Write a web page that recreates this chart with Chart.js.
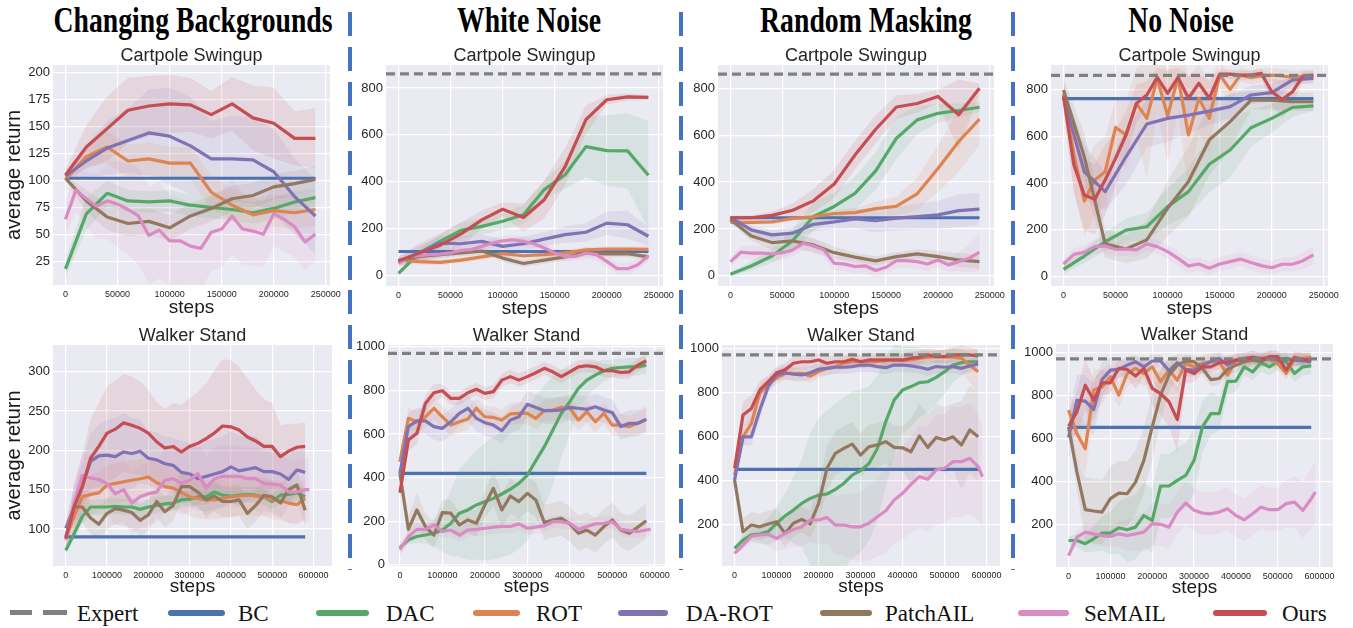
<!DOCTYPE html>
<html>
<head>
<meta charset="utf-8">
<script src="https://cdn.jsdelivr.net/npm/chart.js@4.4.1/dist/chart.umd.min.js"></script>
<style>
  body { margin: 0; width: 1353px; height: 628px; background: #fff; position: relative; overflow: hidden; }
  canvas { position: absolute; }
  .head { position: absolute; top: 2px; font: bold 36px "Liberation Serif", "Times New Roman", serif; line-height: 36px;
          white-space: nowrap; color: #000; transform: translateX(-50%) scaleX(0.77); }
  .sep { position: absolute; top: 12px; height: 558px; width: 4px;
         background: repeating-linear-gradient(to bottom, #4472c4 0 24px, transparent 24px 34.8px); }
  .sw { position: absolute; height: 6px; border-radius: 3px; top: 610px; }
  .lt { position: absolute; top: 602px; font: 23px "Liberation Serif", "Times New Roman", serif; line-height: 24px;
        color: #111; white-space: nowrap; }
</style>
</head>
<body>
<div class="head" style="left:193px">Changing Backgrounds</div>
<div class="head" style="left:529px">White Noise</div>
<div class="head" style="left:866px">Random Masking</div>
<div class="head" style="left:1181px">No Noise</div>
<div class="sep" style="left:348px"></div>
<div class="sep" style="left:679px"></div>
<div class="sep" style="left:1011px"></div>
<div id="legend"></div>
<script>
// x positions
const stepsTop = [0, 20000, 40000, 60000, 80000, 100000, 120000, 140000, 160000, 180000, 200000, 220000, 240000];
const stepsTopFine = [0, 10000, 20000, 30000, 40000, 50000, 60000, 70000, 80000, 90000, 100000, 110000, 120000,
  130000, 140000, 150000, 160000, 170000, 180000, 190000, 200000, 210000, 220000, 230000, 240000];
const stepsBottom = [0, 20000, 40000, 60000, 80000, 100000, 120000, 140000, 160000, 180000, 200000, 220000, 240000,
  260000, 280000, 300000, 320000, 340000, 360000, 380000, 400000, 420000, 440000, 460000, 480000, 500000, 520000,
  540000, 560000, 580000];
const stepsBottomPink = [0, 20000, 40000, 60000, 80000, 100000, 120000, 140000, 160000, 180000, 200000, 220000, 240000,
  260000, 280000, 300000, 320000, 340000, 360000, 380000, 400000, 420000, 440000, 460000, 480000, 500000, 520000,
  540000, 560000, 580000, 590000];

// tick labels
const ticksXTop = [0, 50000, 100000, 150000, 200000, 250000];
const ticksXBottom = [0, 100000, 200000, 300000, 400000, 500000, 600000];
const ticksYCartCB = [25, 50, 75, 100, 125, 150, 175, 200];
const ticksYCart = [0, 200, 400, 600, 800];
const ticksYWalkCB = [100, 150, 200, 250, 300];
const ticksYWalk = [0, 200, 400, 600, 800, 1000];

const methodNames = ['Expert', 'BC', 'DAC', 'ROT', 'DA-ROT', 'PatchAIL', 'SeMAIL', 'Ours'];
const panelTitles = ['Cartpole Swingup', 'Walker Stand'];

// expert / BC flat levels (per column)
const expertCart = [null, 860, 860, 860];
const expertWalk = [null, 970, 970, 970];
const bcCart = [102, 103, 248, 760];
const bcWalk = [90, 420, 450, 652];

// Cartpole - Changing Backgrounds
const cartCBDac = [18, 69, 88, 81, 80, 81, 77, 75, 73, 70, 74, 80, 84];
const cartCBRot = [101, 122, 131, 118, 120, 116, 116, 89, 77, 68, 72, 70, 73];
const cartCBDaRot = [104, 118, 130, 137, 144, 141, 132, 120, 120, 119, 108, 85, 67];
const cartCBPatch = [102, 81, 66, 60, 62, 56, 67, 74, 83, 86, 94, 97, 101];
const cartCBSemail = [64, 91, 83, 76, 81, 78, 73, 67, 49, 54, 44, 44, 39, 37, 52, 55, 67, 55, 53, 50, 69, 64, 57, 43, 50];
const cartCBOurs = [105, 131, 148, 165, 169, 171, 170, 161, 171, 158, 153, 139, 139];
const cartCBDacSd = [8, 15, 12, 10, 10, 10, 10, 10, 10, 10, 10, 10, 8];
const cartCBRotSd = [3, 10, 15, 15, 15, 15, 15, 15, 15, 15, 15, 15, 15];
const cartCBDaRotSd = [3, 15, 25, 30, 40, 45, 45, 35, 40, 40, 40, 35, 35];
const cartCBPatchSd = [3, 10, 12, 12, 12, 12, 12, 12, 12, 12, 12, 12, 12];
const cartCBSemailSd = [15, 20, 25, 30, 35, 40, 42, 45, 45, 45, 42, 40, 40, 38, 36, 35, 35, 33, 32, 30, 30, 30, 28, 26, 25];
const cartCBOursSd = [5, 20, 30, 30, 28, 27, 25, 22, 25, 30, 33, 25, 28];

// Cartpole - White Noise
const cartWNDac = [10, 97, 146, 193, 210, 232, 260, 367, 430, 550, 533, 532, 428];
const cartWNRot = [68, 60, 57, 66, 80, 94, 85, 90, 97, 110, 113, 113, 112];
const cartWNDaRot = [62, 97, 139, 136, 146, 125, 136, 156, 175, 185, 224, 217, 168];
const cartWNPatch = [64, 82, 90, 97, 105, 75, 52, 66, 80, 97, 93, 94, 80];
const cartWNSemail = [51, 82, 85, 90, 92, 97, 108, 111, 125, 139, 149, 153, 146, 136, 118, 97, 82, 82, 97, 90, 61, 30, 30, 47, 85];
const cartWNOurs = [62, 97, 130, 178, 238, 283, 248, 324, 465, 665, 750, 762, 760];
const cartWNDacSd = [10, 20, 30, 35, 35, 35, 40, 40, 60, 130, 150, 160, 230];
const cartWNRotSd = [10, 12, 12, 12, 12, 12, 12, 12, 12, 12, 12, 12, 12];
const cartWNDaRotSd = [20, 30, 30, 30, 30, 30, 30, 30, 35, 40, 50, 60, 40];
const cartWNPatchSd = [10, 15, 15, 15, 15, 15, 15, 15, 15, 15, 15, 15, 15];
const cartWNSemailSd = [15, 20, 20, 20, 20, 20, 20, 20, 20, 20, 20, 20, 20, 20, 20, 20, 20, 20, 25, 25, 25, 25, 25, 25, 25];
const cartWNOursSd = [20, 40, 50, 50, 40, 30, 60, 80, 80, 60, 20, 15, 10];

// Cartpole - Random Masking
const cartRMDac = [7, 42, 85, 150, 253, 296, 352, 448, 587, 665, 693, 705, 719];
const cartRMRot = [228, 228, 230, 245, 252, 266, 270, 287, 297, 350, 458, 573, 668];
const cartRMDaRot = [249, 196, 175, 182, 220, 230, 243, 235, 246, 253, 260, 278, 285];
const cartRMPatch = [240, 170, 142, 149, 132, 99, 80, 64, 82, 94, 82, 68, 61];
const cartRMSemail = [61, 101, 97, 97, 94, 99, 111, 139, 128, 111, 54, 50, 40, 43, 23, 37, 65, 65, 61, 51, 68, 47, 61, 75, 101];
const cartRMOurs = [248, 248, 258, 280, 320, 392, 515, 625, 720, 735, 765, 687, 800];
const cartRMDacSd = [8, 20, 30, 50, 60, 60, 70, 80, 90, 60, 40, 30, 20];
const cartRMRotSd = [10, 10, 10, 10, 10, 15, 20, 30, 40, 70, 100, 130, 110];
const cartRMDaRotSd = [10, 20, 20, 25, 30, 30, 40, 50, 50, 55, 60, 70, 70];
const cartRMPatchSd = [15, 20, 30, 30, 30, 25, 20, 20, 20, 20, 25, 30, 30];
const cartRMSemailSd = [20, 25, 30, 30, 30, 30, 30, 30, 30, 30, 30, 30, 30, 30, 30, 30, 30, 30, 30, 30, 30, 30, 40, 60, 80];
const cartRMOursSd = [10, 10, 15, 30, 50, 60, 60, 60, 50, 40, 30, 150, 20];

// Cartpole - No Noise
const cartNNDac = [31, 88, 149, 199, 213, 299, 363, 480, 541, 636, 676, 723, 729];
const cartNNRot = [780, 520, 323, 413, 448, 638, 605, 740, 676, 847, 686, 851, 605, 762, 676, 861, 800, 861, 851, 857, 861, 857, 851, 854, 854];
const cartNNDaRot = [765, 448, 363, 512, 652, 676, 690, 707, 726, 776, 786, 840, 847];
const cartNNPatch = [797, 512, 140, 118, 157, 292, 406, 584, 662, 754, 754, 747, 747];
const cartNNSemail = [54, 95, 104, 128, 131, 117, 118, 114, 140, 128, 107, 78, 46, 54, 36, 54, 64, 75, 60, 47, 38, 53, 53, 68, 93];
const cartNNOurs = [770, 477, 349, 330, 413, 505, 605, 740, 776, 851, 783, 851, 762, 826, 762, 865, 865, 861, 861, 868, 790, 757, 790, 857, 861];
const cartNNDacSd = [20, 30, 40, 50, 60, 80, 100, 120, 120, 80, 60, 40, 20];
const cartNNRotSd = [60, 150, 150, 150, 150, 120, 150, 150, 250, 150, 200, 150, 250, 150, 150, 60, 60, 30, 30, 30, 30, 30, 30, 30, 30];
const cartNNDaRotSd = [40, 120, 80, 120, 100, 100, 80, 60, 50, 40, 40, 20, 20];
const cartNNPatchSd = [50, 100, 60, 60, 80, 120, 150, 150, 120, 40, 40, 40, 40];
const cartNNSemailSd = [20, 25, 30, 30, 30, 30, 30, 30, 30, 30, 30, 30, 30, 30, 30, 30, 30, 30, 30, 30, 30, 30, 30, 35, 40];
const cartNNOursSd = [60, 120, 150, 150, 150, 120, 100, 80, 60, 40, 100, 40, 100, 40, 80, 20, 20, 20, 20, 20, 60, 80, 60, 20, 20];

// Walker - Changing Backgrounds
const walkCBDac = [73, 94, 116, 128, 128, 128, 129, 128, 128, 125, 128, 130, 132, 133, 137, 138, 141, 141, 147, 143, 142, 143, 144, 143, 141, 135, 143, 144, 146, 141];
const walkCBRot = [88, 116, 141, 144, 146, 156, 158, 160, 162, 164, 166, 159, 154, 152, 147, 141, 139, 137, 137, 139, 141, 142, 143, 142, 141, 137, 136, 133, 131, 139];
const walkCBDaRot = [101, 128, 154, 186, 193, 194, 192, 198, 196, 199, 190, 188, 183, 181, 172, 170, 164, 167, 170, 173, 179, 174, 176, 178, 173, 173, 170, 163, 175, 172];
const walkCBPatch = [90, 128, 128, 114, 106, 120, 126, 124, 121, 111, 118, 135, 122, 130, 154, 154, 147, 137, 142, 135, 135, 137, 120, 130, 143, 141, 133, 150, 156, 124];
const walkCBSemail = [86, 133, 168, 165, 163, 158, 145, 150, 133, 141, 145, 147, 162, 164, 158, 162, 171, 152, 164, 167, 167, 167, 164, 164, 158, 157, 156, 147, 147, 150, 150];
const walkCBOurs = [88, 128, 154, 190, 205, 222, 227, 235, 232, 228, 222, 211, 203, 205, 198, 205, 209, 215, 222, 231, 230, 226, 217, 212, 205, 205, 192, 199, 204, 205];
const walkCBDacSd = [5, 8, 10, 10, 10, 10, 10, 10, 10, 10, 10, 10, 10, 10, 10, 10, 10, 10, 10, 10, 10, 10, 10, 10, 10, 10, 10, 10, 10, 10];
const walkCBRotSd = [5, 15, 20, 25, 25, 25, 25, 25, 25, 25, 25, 25, 25, 25, 25, 25, 25, 25, 25, 25, 25, 25, 25, 25, 25, 25, 25, 25, 25, 25];
const walkCBDaRotSd = [10, 25, 30, 35, 40, 45, 50, 50, 45, 40, 35, 35, 35, 35, 40, 40, 40, 45, 45, 45, 45, 45, 40, 40, 35, 35, 30, 30, 30, 30];
const walkCBPatchSd = [5, 15, 20, 20, 20, 20, 20, 20, 20, 20, 20, 20, 20, 20, 20, 20, 20, 20, 20, 20, 20, 20, 20, 20, 20, 20, 20, 20, 20, 20];
const walkCBSemailSd = [10, 20, 30, 30, 35, 40, 40, 40, 40, 40, 40, 40, 40, 40, 40, 40, 40, 40, 40, 40, 40, 40, 40, 40, 40, 40, 40, 40, 40, 40, 40];
const walkCBOursSd = [10, 30, 40, 50, 55, 60, 62, 62, 62, 60, 55, 50, 50, 55, 60, 62, 65, 70, 80, 85, 85, 80, 75, 65, 60, 55, 40, 35, 30, 30];

// Walker - White Noise
const walkWNDac = [79, 115, 130, 137, 145, 160, 191, 237, 252, 275, 290, 305, 325, 347, 374, 412, 478, 542, 618, 695, 748, 809, 847, 870, 890, 901, 905, 908, 908, 916];
const walkWNRot = [473, 672, 656, 679, 718, 679, 641, 656, 669, 718, 679, 676, 664, 692, 695, 695, 672, 707, 710, 722, 718, 664, 702, 656, 695, 641, 641, 634, 649, 667];
const walkWNDaRot = [420, 634, 660, 660, 634, 626, 656, 695, 718, 672, 652, 641, 615, 664, 679, 736, 722, 707, 707, 710, 722, 718, 713, 725, 710, 698, 634, 649, 649, 667];
const walkWNPatch = [420, 163, 252, 176, 137, 240, 237, 183, 206, 191, 275, 351, 252, 316, 290, 328, 298, 194, 206, 214, 188, 145, 160, 137, 176, 206, 160, 145, 173, 202];
const walkWNSemail = [69, 130, 163, 163, 183, 153, 160, 137, 160, 163, 168, 173, 176, 176, 188, 168, 173, 179, 198, 198, 191, 163, 176, 188, 191, 198, 163, 157, 153, 160, 163];
const walkWNOurs = [331, 572, 603, 740, 789, 798, 763, 763, 789, 805, 786, 794, 847, 863, 847, 863, 881, 901, 885, 863, 885, 908, 913, 908, 890, 890, 882, 885, 916, 936];
const walkWNDacSd = [10, 20, 30, 40, 60, 100, 150, 200, 230, 250, 270, 280, 290, 300, 300, 300, 300, 280, 250, 200, 150, 100, 80, 60, 50, 40, 40, 40, 40, 40];
const walkWNRotSd = [30, 50, 50, 50, 50, 50, 50, 50, 50, 50, 50, 50, 50, 50, 50, 50, 50, 50, 50, 50, 50, 50, 50, 50, 50, 50, 50, 50, 50, 50];
const walkWNDaRotSd = [30, 60, 60, 60, 60, 60, 60, 60, 60, 60, 60, 60, 60, 60, 60, 60, 60, 60, 60, 60, 60, 60, 60, 60, 60, 60, 60, 60, 60, 60];
const walkWNPatchSd = [30, 60, 80, 60, 60, 60, 60, 60, 60, 60, 60, 80, 80, 80, 80, 80, 80, 80, 80, 80, 80, 80, 80, 80, 80, 80, 80, 80, 80, 80];
const walkWNSemailSd = [30, 30, 30, 30, 30, 30, 30, 30, 30, 30, 30, 30, 30, 30, 30, 30, 30, 30, 30, 30, 30, 30, 30, 30, 30, 30, 30, 30, 30, 30, 30];
const walkWNOursSd = [30, 50, 50, 40, 40, 30, 30, 30, 30, 30, 30, 30, 30, 30, 30, 30, 30, 30, 30, 30, 30, 30, 30, 30, 30, 30, 30, 30, 30, 30];

// Walker - Random Masking
const walkRMDac = [91, 129, 152, 156, 167, 205, 238, 265, 295, 318, 333, 338, 359, 386, 424, 444, 477, 545, 667, 765, 811, 826, 844, 848, 868, 894, 924, 935, 939, 939];
const walkRMRot = [424, 598, 659, 795, 841, 864, 886, 886, 886, 874, 894, 909, 917, 932, 939, 939, 939, 939, 944, 947, 944, 947, 955, 959, 962, 962, 959, 955, 924, 894];
const walkRMDaRot = [402, 598, 598, 720, 826, 879, 889, 882, 879, 889, 905, 909, 914, 914, 917, 924, 924, 917, 912, 924, 924, 920, 914, 905, 917, 914, 917, 909, 920, 929];
const walkRMPatch = [402, 167, 197, 189, 202, 212, 159, 205, 223, 202, 295, 455, 523, 545, 565, 515, 553, 561, 576, 550, 548, 530, 602, 550, 595, 583, 598, 561, 629, 598];
const walkRMSemail = [68, 106, 147, 152, 155, 136, 159, 177, 189, 220, 220, 232, 197, 197, 189, 189, 205, 235, 262, 311, 341, 382, 417, 405, 447, 455, 485, 485, 500, 462, 417];
const walkRMOurs = [455, 697, 727, 811, 848, 889, 902, 932, 939, 939, 947, 932, 939, 939, 950, 939, 947, 947, 947, 947, 947, 955, 959, 970, 962, 962, 970, 970, 970, 965];
const walkRMDacSd = [10, 20, 30, 40, 60, 80, 100, 150, 200, 300, 350, 380, 390, 390, 380, 370, 350, 330, 300, 250, 200, 180, 160, 140, 120, 100, 80, 60, 40, 30];
const walkRMRotSd = [20, 40, 40, 40, 30, 30, 30, 30, 30, 30, 30, 30, 30, 30, 30, 30, 30, 30, 30, 30, 30, 30, 30, 30, 30, 30, 40, 60, 80, 100];
const walkRMDaRotSd = [20, 40, 40, 40, 30, 30, 30, 30, 30, 30, 30, 30, 30, 30, 30, 30, 30, 30, 30, 30, 30, 30, 30, 30, 30, 30, 30, 30, 30, 30];
const walkRMPatchSd = [30, 60, 60, 60, 60, 60, 60, 60, 60, 60, 80, 100, 100, 100, 100, 100, 100, 100, 100, 100, 100, 150, 150, 150, 150, 150, 150, 200, 200, 200];
const walkRMSemailSd = [10, 20, 30, 40, 50, 60, 70, 80, 90, 100, 110, 120, 130, 140, 150, 160, 170, 180, 190, 200, 210, 220, 230, 240, 250, 250, 250, 250, 250, 240, 230];
const walkRMOursSd = [30, 60, 60, 40, 30, 30, 30, 30, 30, 30, 30, 30, 30, 30, 30, 30, 30, 30, 30, 30, 30, 30, 30, 30, 30, 30, 30, 30, 30, 30];

// Walker - No Noise
const walkNNDac = [127, 127, 112, 135, 161, 161, 186, 177, 189, 243, 220, 380, 380, 406, 429, 499, 654, 716, 716, 864, 867, 933, 910, 952, 933, 957, 957, 902, 933, 938];
const walkNNRot = [732, 623, 553, 825, 840, 887, 802, 902, 926, 902, 933, 864, 918, 871, 949, 933, 949, 957, 957, 895, 964, 960, 964, 967, 967, 949, 902, 972, 972, 977];
const walkNNDaRot = [605, 778, 774, 735, 874, 918, 921, 941, 957, 933, 960, 960, 915, 952, 921, 918, 941, 957, 972, 941, 964, 972, 977, 972, 972, 964, 972, 964, 960, 957];
const walkNNPatch = [654, 445, 270, 264, 259, 321, 347, 344, 398, 499, 654, 802, 895, 941, 960, 957, 926, 874, 879, 921, 941, 957, 964, 957, 977, 972, 967, 967, 967, 967];
const walkNNSemail = [57, 143, 166, 158, 150, 146, 158, 150, 158, 166, 205, 202, 189, 259, 301, 267, 254, 251, 259, 274, 243, 223, 251, 282, 270, 270, 298, 305, 267, 321, 352];
const walkNNOurs = [657, 724, 848, 778, 859, 859, 926, 921, 890, 926, 833, 809, 771, 688, 918, 902, 933, 933, 952, 957, 964, 967, 977, 967, 980, 980, 918, 977, 967, 964];
const walkNNDacSd = [20, 30, 40, 60, 80, 100, 120, 150, 150, 150, 150, 150, 150, 150, 150, 150, 120, 100, 80, 60, 50, 40, 40, 40, 40, 40, 40, 40, 40, 40];
const walkNNRotSd = [100, 100, 120, 100, 80, 60, 60, 60, 60, 60, 60, 60, 60, 60, 40, 40, 40, 40, 40, 40, 30, 30, 30, 30, 30, 30, 30, 30, 30, 30];
const walkNNDaRotSd = [100, 120, 120, 120, 80, 60, 40, 40, 30, 30, 30, 30, 30, 30, 30, 30, 30, 30, 30, 30, 30, 30, 30, 30, 30, 30, 30, 30, 30, 30];
const walkNNPatchSd = [20, 80, 150, 150, 150, 150, 150, 150, 150, 150, 150, 120, 80, 50, 30, 30, 30, 30, 30, 30, 30, 30, 30, 30, 30, 30, 30, 30, 30, 30];
const walkNNSemailSd = [10, 30, 40, 50, 50, 50, 60, 70, 80, 90, 100, 100, 100, 100, 100, 100, 100, 100, 100, 100, 100, 100, 100, 100, 100, 100, 110, 120, 130, 140, 150];
const walkNNOursSd = [60, 100, 120, 100, 60, 50, 40, 40, 60, 40, 80, 100, 120, 150, 60, 40, 30, 30, 30, 30, 30, 30, 30, 30, 30, 30, 30, 30, 30, 30];

const colors = {
  expert: '#808080', bc: '#4c72b0', dac: '#55a868', rot: '#dd8452',
  daRot: '#8172b3', patch: '#937860', semail: '#da8bc3', ours: '#c44e52'
};
const fontSans = '"Liberation Sans", Arial, sans-serif';

function hexToRgba(hex, a) {
  const n = parseInt(hex.slice(1), 16);
  return `rgba(${(n >> 16) & 255}, ${(n >> 8) & 255}, ${n & 255}, ${a})`;
}

// mean line + shaded band
function seriesDatasets(steps, mean, sd, key, order) {
  const color = colors[key];
  return [
    { data: steps.map((s, i) => ({ x: s, y: mean[i] - sd[i] })), borderColor: 'transparent', borderWidth: 0,
      pointRadius: 0, fill: false, order: 100 },
    { data: steps.map((s, i) => ({ x: s, y: mean[i] + sd[i] })), borderColor: 'transparent', borderWidth: 0,
      pointRadius: 0, fill: '-1', backgroundColor: hexToRgba(color, 0.12), order: 100 },
    { data: steps.map((s, i) => ({ x: s, y: mean[i] })), borderColor: color, borderWidth: 3.2,
      pointRadius: 0, fill: false, order: order, borderJoinStyle: 'round' }
  ];
}

const bgPlugin = {
  id: 'bg',
  beforeDraw(chart) {
    const { ctx, chartArea } = chart;
    ctx.save();
    ctx.fillStyle = '#eaeaf2';
    ctx.fillRect(chartArea.left, chartArea.top, chartArea.width, chartArea.height);
    ctx.restore();
  }
};

// plot rectangles [left, top, right, bottom] and axis ranges
const panels = [
  { rect: [53, 65, 330, 285], col: 0, row: 0, x: [-12000, 254000], y: [3, 207], yTicks: ticksYCartCB,
    series: [[stepsTop, cartCBDac, cartCBDacSd, 'dac'], [stepsTop, cartCBRot, cartCBRotSd, 'rot'],
             [stepsTop, cartCBDaRot, cartCBDaRotSd, 'daRot'], [stepsTop, cartCBPatch, cartCBPatchSd, 'patch'],
             [stepsTopFine, cartCBSemail, cartCBSemailSd, 'semail'], [stepsTop, cartCBOurs, cartCBOursSd, 'ours']] },
  { rect: [386, 65, 663, 286], col: 1, row: 0, x: [-12000, 254000], y: [-44, 898], yTicks: ticksYCart,
    series: [[stepsTop, cartWNDac, cartWNDacSd, 'dac'], [stepsTop, cartWNRot, cartWNRotSd, 'rot'],
             [stepsTop, cartWNDaRot, cartWNDaRotSd, 'daRot'], [stepsTop, cartWNPatch, cartWNPatchSd, 'patch'],
             [stepsTopFine, cartWNSemail, cartWNSemailSd, 'semail'], [stepsTop, cartWNOurs, cartWNOursSd, 'ours']] },
  { rect: [718, 65, 994, 286], col: 2, row: 0, x: [-12000, 254000], y: [-43, 899], yTicks: ticksYCart,
    series: [[stepsTop, cartRMDac, cartRMDacSd, 'dac'], [stepsTop, cartRMRot, cartRMRotSd, 'rot'],
             [stepsTop, cartRMDaRot, cartRMDaRotSd, 'daRot'], [stepsTop, cartRMPatch, cartRMPatchSd, 'patch'],
             [stepsTopFine, cartRMSemail, cartRMSemailSd, 'semail'], [stepsTop, cartRMOurs, cartRMOursSd, 'ours']] },
  { rect: [1051, 65, 1328, 286], col: 3, row: 0, x: [-12000, 254000], y: [-40, 904], yTicks: ticksYCart,
    series: [[stepsTop, cartNNDac, cartNNDacSd, 'dac'], [stepsTopFine, cartNNRot, cartNNRotSd, 'rot'],
             [stepsTop, cartNNDaRot, cartNNDaRotSd, 'daRot'], [stepsTop, cartNNPatch, cartNNPatchSd, 'patch'],
             [stepsTopFine, cartNNSemail, cartNNSemailSd, 'semail'], [stepsTopFine, cartNNOurs, cartNNOursSd, 'ours']] },
  { rect: [53, 345, 332, 566], col: 0, row: 1, x: [-31000, 645000], y: [53, 334], yTicks: ticksYWalkCB,
    series: [[stepsBottom, walkCBDac, walkCBDacSd, 'dac'], [stepsBottom, walkCBRot, walkCBRotSd, 'rot'],
             [stepsBottom, walkCBDaRot, walkCBDaRotSd, 'daRot'], [stepsBottom, walkCBPatch, walkCBPatchSd, 'patch'],
             [stepsBottomPink, walkCBSemail, walkCBSemailSd, 'semail'], [stepsBottom, walkCBOurs, walkCBOursSd, 'ours']] },
  { rect: [388, 345, 665, 566], col: 1, row: 1, x: [-28000, 624000], y: [-5, 1008], yTicks: ticksYWalk,
    series: [[stepsBottom, walkWNDac, walkWNDacSd, 'dac'], [stepsBottom, walkWNRot, walkWNRotSd, 'rot'],
             [stepsBottom, walkWNDaRot, walkWNDaRotSd, 'daRot'], [stepsBottom, walkWNPatch, walkWNPatchSd, 'patch'],
             [stepsBottomPink, walkWNSemail, walkWNSemailSd, 'semail'], [stepsBottom, walkWNOurs, walkWNOursSd, 'ours']] },
  { rect: [722, 345, 1000, 566], col: 2, row: 1, x: [-30000, 632000], y: [11, 1015], yTicks: ticksYWalk,
    series: [[stepsBottom, walkRMDac, walkRMDacSd, 'dac'], [stepsBottom, walkRMRot, walkRMRotSd, 'rot'],
             [stepsBottom, walkRMDaRot, walkRMDaRotSd, 'daRot'], [stepsBottom, walkRMPatch, walkRMPatchSd, 'patch'],
             [stepsBottomPink, walkRMSemail, walkRMSemailSd, 'semail'], [stepsBottom, walkRMOurs, walkRMOursSd, 'ours']] },
  { rect: [1056, 344, 1333, 567], col: 3, row: 1, x: [-30000, 632000], y: [4, 1039], yTicks: ticksYWalk,
    series: [[stepsBottom, walkNNDac, walkNNDacSd, 'dac'], [stepsBottom, walkNNRot, walkNNRotSd, 'rot'],
             [stepsBottom, walkNNDaRot, walkNNDaRotSd, 'daRot'], [stepsBottom, walkNNPatch, walkNNPatchSd, 'patch'],
             [stepsBottomPink, walkNNSemail, walkNNSemailSd, 'semail'], [stepsBottom, walkNNOurs, walkNNOursSd, 'ours']] }
];

const lineOrder = { bc: 8, dac: 7, rot: 6, daRot: 5, patch: 4, semail: 3, ours: 2 };

function fixedTicks(values, min, max) {
  return axis => { axis.ticks = values.filter(v => v >= min && v <= max).map(v => ({ value: v })); };
}

panels.forEach(p => {
  const [l, t, r, b] = p.rect;
  const yw = p.col === 0 ? 53 : 45;
  const xh = p.row === 0 ? 34 : 32;
  const cl = l - yw, ct = t - 18;
  const canvas = document.createElement('canvas');
  canvas.width = r + 20 - cl;
  canvas.height = b + xh - ct;
  canvas.style.left = cl + 'px';
  canvas.style.top = ct + 'px';
  document.body.appendChild(canvas);

  const steps = p.row === 0 ? stepsTop : stepsBottom;
  const xTicks = p.row === 0 ? ticksXTop : ticksXBottom;
  const first = steps[0], last = steps[steps.length - 1];
  const bc = (p.row === 0 ? bcCart : bcWalk)[p.col];
  const expert = (p.row === 0 ? expertCart : expertWalk)[p.col];

  const datasets = [];
  p.series.forEach(([s, m, sd, key]) => datasets.push(...seriesDatasets(s, m, sd, key, lineOrder[key])));
  datasets.push({ data: [{ x: first, y: bc }, { x: last, y: bc }], borderColor: colors.bc, borderWidth: 3.2,
    pointRadius: 0, fill: false, order: lineOrder.bc });
  if (expert !== null) {
    datasets.push({ data: [{ x: p.x[0], y: expert }, { x: p.x[1], y: expert }], borderColor: colors.expert,
      borderWidth: 3.2, borderDash: [9, 5], pointRadius: 0, fill: false, order: 1 });
  }

  new Chart(canvas, {
    type: 'line',
    data: { datasets },
    plugins: [bgPlugin],
    options: {
      responsive: false,
      animation: false,
      devicePixelRatio: 1,
      layout: { padding: { left: 0, right: 20, top: 0, bottom: 0 } },
      plugins: {
        legend: { display: false },
        tooltip: { enabled: false },
        title: { display: true, text: panelTitles[p.row], fullSize: false, color: '#262626',
          font: { family: fontSans, size: 18, weight: 'normal', lineHeight: 1 }, padding: { top: 0, bottom: 0 } }
      },
      scales: {
        x: {
          type: 'linear', min: p.x[0], max: p.x[1],
          border: { display: false },
          grid: { color: '#ffffff', lineWidth: 1.2, drawTicks: false },
          afterBuildTicks: fixedTicks(xTicks, p.x[0], p.x[1]),
          ticks: { autoSkip: false, maxRotation: 0, padding: 4,
            color: '#262626', font: { family: fontSans, size: 9 }, callback: v => String(v) },
          title: { display: true, text: 'steps', color: '#1a1a1a', padding: 0,
            font: { family: fontSans, size: 19 } },
          afterFit: s => { s.height = xh; }
        },
        y: {
          type: 'linear', min: p.y[0], max: p.y[1],
          border: { display: false },
          grid: { color: '#ffffff', lineWidth: 1.2, drawTicks: false },
          afterBuildTicks: fixedTicks(p.yTicks, p.y[0], p.y[1]),
          ticks: { autoSkip: false, padding: 3,
            color: '#262626', font: { family: fontSans, size: 13 }, callback: v => String(v) },
          title: { display: p.col === 0, text: 'average return', color: '#1a1a1a', padding: { top: 2, bottom: 0 },
            font: { family: fontSans, size: 20 } },
          afterFit: s => { s.width = yw; }
        }
      }
    }
  });
});

// legend (bottom row)
const legendItems = [
  { key: 'bc', sw: [168, 225], text: 238 }, { key: 'dac', sw: [316, 369], text: 386 },
  { key: 'rot', sw: [473, 520], text: 536 }, { key: 'daRot', sw: [618, 668], text: 686 },
  { key: 'patch', sw: [820, 872], text: 885 }, { key: 'semail', sw: [1018, 1069], text: 1084 },
  { key: 'ours', sw: [1213, 1267], text: 1282 }
];
const legend = document.getElementById('legend');
let html = `<div class="sw" style="left:10px;width:22px;background:${colors.expert};border-radius:0;height:5px"></div>` +
  `<div class="sw" style="left:43px;width:24px;background:${colors.expert};border-radius:0;height:5px"></div>` +
  `<div class="lt" style="left:77px">${methodNames[0]}</div>`;
legendItems.forEach((it, i) => {
  html += `<div class="sw" style="left:${it.sw[0]}px;width:${it.sw[1] - it.sw[0]}px;background:${colors[it.key]}"></div>` +
    `<div class="lt" style="left:${it.text}px">${methodNames[i + 1]}</div>`;
});
legend.innerHTML = html;
</script>
</body>
</html>
